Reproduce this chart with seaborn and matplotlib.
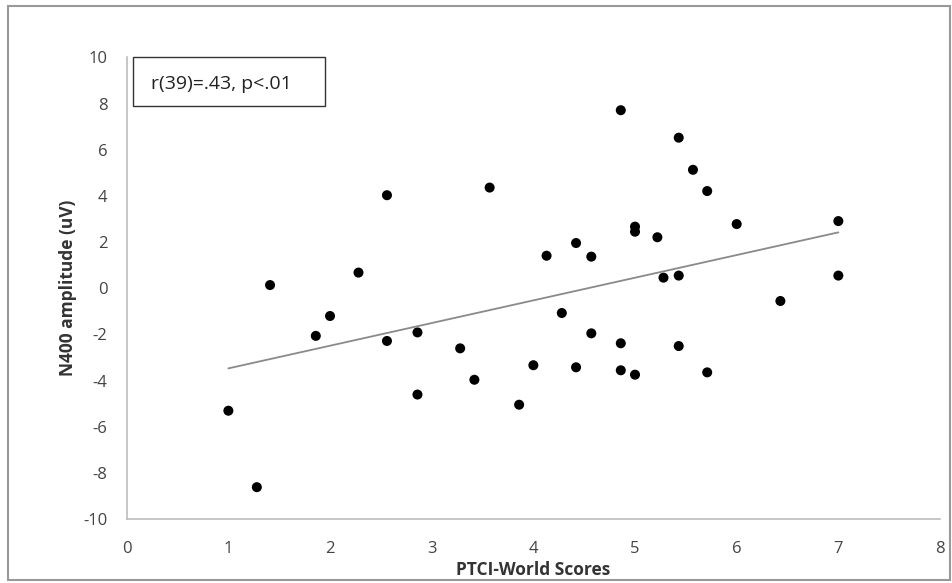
import numpy as np
import pandas as pd
import seaborn as sns
import matplotlib
matplotlib.use("Agg")
import matplotlib.pyplot as plt
from matplotlib.patches import Rectangle

ptci_world = [1.00, 1.28, 1.41, 1.86, 2.00, 2.28, 2.56, 2.56, 2.86, 2.86,
              3.28, 3.42, 3.57, 3.86, 4.00, 4.13, 4.28, 4.42, 4.42, 4.57,
              4.57, 4.86, 4.86, 4.86, 5.00, 5.00, 5.00, 5.22, 5.28, 5.43,
              5.43, 5.43, 5.57, 5.71, 5.71, 6.00, 6.43, 7.00, 7.00]
n400_amp = [-5.30, -8.61, 0.14, -2.06, -1.20, 0.68, 4.03, -2.28, -1.91, -4.60,
            -2.60, -3.96, 4.36, -5.04, -3.33, 1.41, -1.07, 1.96, -3.42, 1.37,
            -1.95, 7.71, -2.38, -3.55, 2.67, 2.45, -3.74, 2.21, 0.46, 6.52,
            0.55, -2.50, 5.13, 4.21, -3.64, 2.78, -0.55, 2.91, 0.55]
x_ticks = [0, 1, 2, 3, 4, 5, 6, 7, 8]
y_ticks = [-10, -8, -6, -4, -2, 0, 2, 4, 6, 8, 10]
annotation = "r(39)=.43, p<.01"
x_label = "PTCI-World Scores"
y_label = "N400 amplitude (uV)"

df = pd.DataFrame({"x": ptci_world, "y": n400_amp})

sns.set_style("white")
plt.rcParams["font.family"] = ["Open Sans", "DejaVu Sans"]
plt.rcParams["axes.unicode_minus"] = False

fig = plt.figure(figsize=(9.52, 5.83), dpi=100)
ax = fig.add_axes([0.1331, 0.1093, 0.8543, 0.7924])

sns.regplot(data=df, x="x", y="y", ax=ax, ci=None, truncate=True,
            scatter_kws=dict(s=52, color="black", edgecolor="none", alpha=1),
            line_kws=dict(color="#8a8a8a", linewidth=1.3))

ax.set_xlim(0, 8)
ax.set_ylim(-10, 10)
ax.set_xticks(x_ticks)
ax.set_yticks(y_ticks)
ax.tick_params(axis="both", colors="#bdbdbd", labelcolor="#444444",
               labelsize=12, length=5, width=1, direction="out")
ax.tick_params(axis="x", pad=10.5)
ax.tick_params(axis="y", pad=9)
for side in ["top", "right"]:
    ax.spines[side].set_visible(False)
for side in ["left", "bottom"]:
    ax.spines[side].set_color("#bdbdbd")
    ax.spines[side].set_linewidth(1.2)

ax.set_xlabel(x_label, fontsize=12.5, fontweight="bold", color="#333333", labelpad=3)
ax.set_ylabel(y_label, fontsize=12.5, fontweight="bold", color="#333333", labelpad=4.5)

ax.text(0.24, 8.85, annotation, fontsize=14, color="#222222", va="center", ha="left")
ax.add_patch(Rectangle((0.06, 7.9), 1.89, 2.1, fill=False, edgecolor="#333333",
                       linewidth=1.0, clip_on=False))

fig.patches.append(Rectangle((0.008, 0.005), 0.99, 0.985, transform=fig.transFigure,
                             fill=False, edgecolor="#999999", linewidth=1.5))

fig.savefig("out.png", dpi=100)
